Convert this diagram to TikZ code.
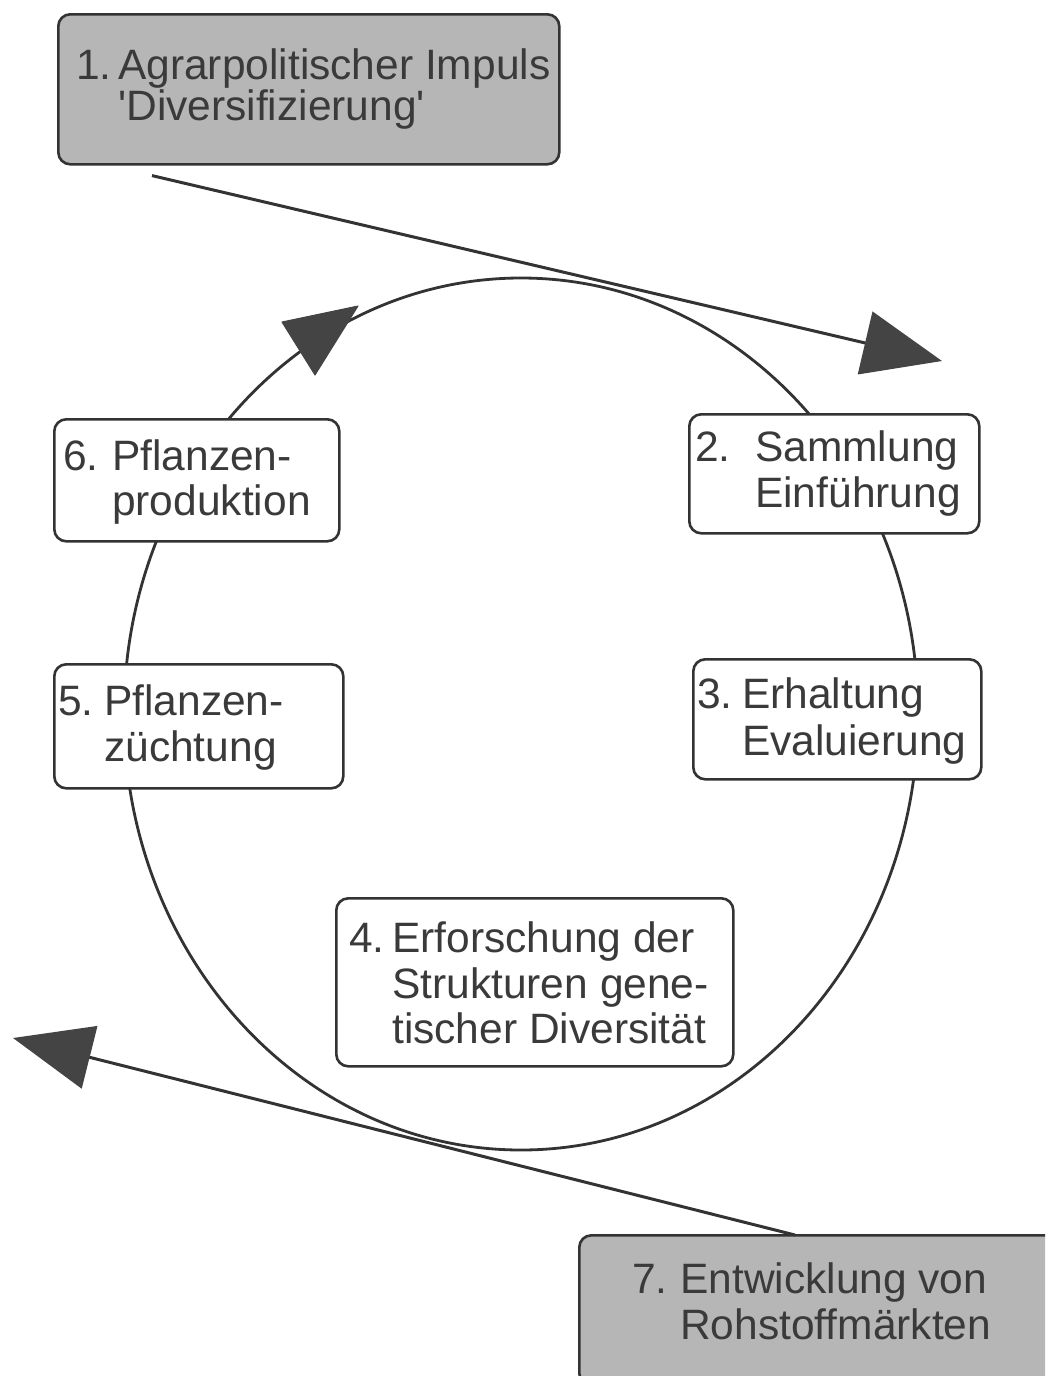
\documentclass[tikz,border=0pt]{standalone}
\usepackage{fontspec}
\setmainfont{Liberation Sans}
\usetikzlibrary{arrows.meta}
\definecolor{ink}{HTML}{333333}
\definecolor{txtc}{HTML}{3A3A3A}
\definecolor{headc}{HTML}{444444}
\definecolor{boxgray}{HTML}{B6B6B6}
\tikzset{
  stagebox/.style={draw=ink, line width=2.6pt, rounded corners=12pt, fill=white, inner sep=0pt, anchor=north west},
  graybox/.style={stagebox, fill=boxgray},
  txt/.style={anchor=base west, inner sep=0pt, font=\fontsize{42.5}{48}\selectfont, text=txtc},
  cycleline/.style={draw=ink, line width=2.8pt},
  bigarrow/.style={draw=ink, line width=3pt, -{Triangle[length=79pt,width=64pt,fill=headc,color=headc]}},
  headtri/.style={fill=headc, draw=headc, line width=1pt, line join=round}
}
\begin{document}
\begin{tikzpicture}[x=1pt,y=-1pt]
\useasboundingbox (0,0) rectangle (1045,1376);
\fill[white] (0,0) rectangle (1045,1376);
\clip (0,0) rectangle (1045,1376);

% cycle
\draw[cycleline] (521,714) ellipse [x radius=397pt, y radius=436pt];
\fill[headtri] (282,322) -- (315,375) -- (358,306) -- cycle;

% boxes
\node[graybox, minimum width=501pt, minimum height=150pt] (b1) at (57,13) {};
\node[stagebox, minimum width=290pt, minimum height=119pt] (b2) at (688,413) {};
\node[stagebox, minimum width=288pt, minimum height=120pt] (b3) at (692,658) {};
\node[stagebox, minimum width=397pt, minimum height=168pt] (b4) at (335,897) {};
\node[stagebox, minimum width=289pt, minimum height=124pt] (b5) at (53,663) {};
\node[stagebox, minimum width=285pt, minimum height=122pt] (b6) at (53,418) {};
\node[graybox, minimum width=490pt, minimum height=150pt] (b7) at (578,1234) {};

% connectors
\coordinate (e1) at (942,361);
\coordinate (e7) at (13,1038);
\draw[bigarrow] ([xshift=95pt,yshift=-10pt]b1.south west) -- (e1);
\draw[bigarrow] ([xshift=217pt,yshift=-1pt]b7.north west) -- (e7);

% texts
\node[txt] (t1n) at (76,79) {1.};
\node[txt] (t1a) at (118,79) {Agrarpolitischer Impuls};
\node[txt] (t1b) at (118,120) {\textquotesingle Diversifizierung\textquotesingle};

\node[txt] (t2n) at (695,461) {2.};
\node[txt] (t2a) at (755,461) {Sammlung};
\node[txt] (t2b) at (755,507) {Einführung};

\node[txt] (t3n) at (697,708) {3.};
\node[txt] (t3a) at (742,708) {Erhaltung};
\node[txt] (t3b) at (742,755) {Evaluierung};

\node[txt] (t4n) at (349,952) {4.};
\node[txt] (t4a) at (392,952) {Erforschung der};
\node[txt] (t4b) at (392,998) {Strukturen gene-};
\node[txt] (t4c) at (392,1043) {tischer Diversität};

\node[txt] (t5n) at (58,715) {5.};
\node[txt] (t5a) at (104,715) {Pflanzen-};
\node[txt] (t5b) at (104,761) {züchtung};

\node[txt] (t6n) at (63,470) {6.};
\node[txt] (t6a) at (112,470) {Pflanzen-};
\node[txt] (t6b) at (112,515) {produktion};

\node[txt] (t7n) at (632,1293) {7.};
\node[txt] (t7a) at (680,1293) {Entwicklung von};
\node[txt] (t7b) at (680,1339) {Rohstoffmärkten};
\end{tikzpicture}
\end{document}
